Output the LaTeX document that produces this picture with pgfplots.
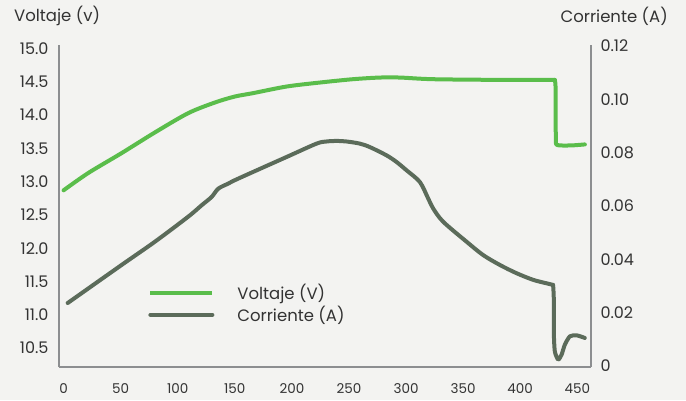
\documentclass[border=0pt]{standalone}
\usepackage{pgfplots}
\pgfplotsset{compat=1.18}
\usepackage{fontspec}
\setmainfont{Poppins}
\definecolor{bg}{HTML}{F3F3F1}
\definecolor{vgreen}{HTML}{5ABD4B}
\definecolor{cdark}{HTML}{5B6B5A}
\definecolor{axgray}{HTML}{8C8E90}
\definecolor{txt}{HTML}{333333}
\begin{document}
\begin{tikzpicture}[x=1pt,y=1pt]
\fill[bg] (0,0) rectangle (686,400);
\path[use as bounding box] (0,0) rectangle (686,400);
\node[anchor=west,text=txt,font=\fontsize{16.5}{18}\selectfont,inner sep=0pt] at (14,384) {Voltaje (v)};
\node[anchor=east,text=txt,font=\fontsize{16.5}{18}\selectfont,inner sep=0pt] at (668,384) {Corriente (A)};
\begin{axis}[
  scale only axis, width=532pt, height=322pt,
  at={(59pt,33pt)}, anchor=south west,
  xmin=-4, xmax=462, ymin=10.215, ymax=15.054,
  axis x line*=bottom, axis y line*=left,
  axis line style={axgray, line width=2pt},
  major tick length=0pt,
  xtick={0,50,...,450},
  ytick={10.5,11,11.5,12,12.5,13,13.5,14,14.5,15},
  yticklabels={10.5,11.0,11.5,12.0,12.5,13.0,13.5,14.0,14.5,15.0},
  /pgf/number format/assume math mode=true,
  xticklabel style={text=txt, font=\fontsize{13.5}{15}\selectfont, yshift=-13pt},
  yticklabel style={text=txt, font=\fontsize{16}{18}\selectfont, xshift=-7pt},
  clip=false,
]
\addplot[vgreen, line width=4pt, line join=round, line cap=round, smooth, tension=0.5] coordinates {
(0,12.87) (21.6,13.13) (50.9,13.43) (80.0,13.74) (109.2,14.03) (132.6,14.19)
(150.1,14.28) (165.8,14.33) (195.4,14.43) (224.5,14.49) (253.4,14.54) (277,14.565)
(294.6,14.565) (323.5,14.54) (382.1,14.53) (430.3,14.53)
};
\addplot[vgreen, line width=4pt, line join=round, line cap=round, smooth, tension=0.4] coordinates {
(430.3,14.53) (431.0,14.40) (431.2,13.64) (432.6,13.55) (445,13.545) (456.6,13.56)
};
\end{axis}
\begin{axis}[
  scale only axis, width=532pt, height=322pt,
  at={(59pt,33pt)}, anchor=south west,
  xmin=-4, xmax=462, ymin=-0.0004, ymax=0.1204,
  axis x line=none, axis y line*=right,
  axis line style={axgray, line width=2pt},
  major tick length=0pt,
  ytick={0,0.02,0.04,0.06,0.08,0.10,0.12},
  yticklabels={0,0.02,0.04,0.06,0.08,0.10,0.12},
  /pgf/number format/assume math mode=true,
  yticklabel style={text=txt, font=\fontsize{16}{18}\selectfont, xshift=6pt},
  clip=false,
  legend style={draw=none, fill=none, at={(0.162,0.196)}, anchor=west,
    font=\fontsize{16.5}{18}\selectfont, text=txt, row sep=1pt},
  legend cell align=left,
  legend image code/.code={\draw[#1, line width=4pt] (0pt,0pt) -- (62pt,0pt); \path[draw=none,fill=none] (62pt,0pt) -- (85pt,0pt);},
]
\addlegendimage{vgreen}
\addlegendentry{Voltaje (V)}
\addplot[cdark, line width=4pt, line join=round, line cap=round, smooth, tension=0.5] coordinates {
(3.6,0.0236) (50.9,0.0379) (80.0,0.0466) (109.2,0.0560) (121,0.0603) (129.7,0.0634)
(135.5,0.0665) (144.2,0.0684) (150.1,0.0697) (166.1,0.0728) (195.4,0.0784) (221.6,0.0834)
(230.4,0.0842) (239.1,0.0844) (247.9,0.0842) (259.5,0.0834) (268.3,0.0821) (282.9,0.0790)
(291.7,0.0765) (300.4,0.0734) (312.1,0.0690) (319.4,0.0628) (323.7,0.0591) (332.5,0.0541)
(353,0.0466) (367.5,0.0416) (382.1,0.0379) (396.7,0.0348) (411.3,0.0323) (423,0.0310)
(428.8,0.0304)
};
\addlegendentry{Corriente (A)}
\addplot[cdark, line width=4pt, line join=round, line cap=round, smooth, tension=0.4, forget plot] coordinates {
(428.8,0.0304) (429.4,0.0254) (429.4,0.0130) (430.3,0.0055) (433.2,0.0024) (436.2,0.0042)
(439.1,0.0080) (443.5,0.0111) (449.3,0.0115) (456.6,0.0105)
};
\end{axis}
\end{tikzpicture}
\end{document}
